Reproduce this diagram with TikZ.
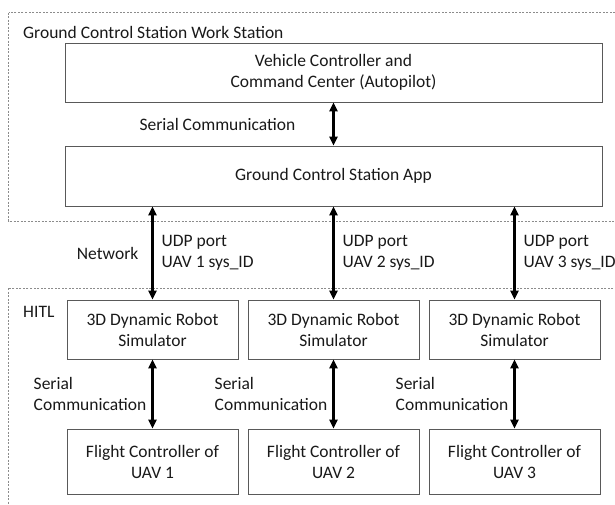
\documentclass[tikz,border=0pt]{standalone}
\usepackage{fontspec}
\setmainfont{Carlito}
\usetikzlibrary{arrows.meta,positioning}

\begin{document}
\begin{tikzpicture}[x=1pt, y=-1pt, >={Triangle[width=8pt,length=9pt]}, node distance=181pt,
	font=\fontsize{17.5}{21}\selectfont,
	block/.style={draw=black!65, line width=0.8pt, align=center, inner sep=0pt, text=black!90},
	simbox/.style={block, minimum width=171pt, minimum height=59pt},
	fcbox/.style={block, minimum width=171pt, minimum height=65pt},
	frame/.style={draw=black!45, line width=0.6pt, dash pattern=on 2pt off 1.5pt},
	lbl/.style={inner sep=0pt, align=left, text=black!90},
	link/.style={<->, line width=2.4pt}]
	\clip (0,0) rectangle (615,504);
	
	% Frames {ground station, HITL}
	\draw [frame] (8.5,12.5) rectangle (630,221);
	\draw [frame] (8.5,288) rectangle (630,520);
	\node [lbl, anchor=west] (gcstitle) at (23,32) {Ground Control Station Work Station};
	\node [lbl, anchor=west] (hitltitle) at (23,312) {HITL};
	
	% Nodes {vcc, gcs, sim1, sim2, sim3, fc1, fc2, fc3}
	\node [block, minimum width=537pt, minimum height=59pt] (vcc) at (333.5,72.5) {Vehicle Controller and\\Command Center (Autopilot)};
	\node [block, minimum width=537pt, minimum height=60pt] (gcs) at (333.5,176) {Ground Control Station App};
	\node [simbox] 						(sim1) at (152.5,329.5)	{3D Dynamic Robot\\Simulator};
	\node [simbox] 						(sim2) [right of=sim1] 	{3D Dynamic Robot\\Simulator};
	\node [simbox] 						(sim3) [right of=sim2] 	{3D Dynamic Robot\\Simulator};
	\node [fcbox, node distance=132pt] 	(fc1) [below of=sim1] 	{Flight Controller of\\UAV 1};
	\node [fcbox, node distance=132pt] 	(fc2) [below of=sim2] 	{Flight Controller of\\UAV 2};
	\node [fcbox, node distance=132pt] 	(fc3) [below of=sim3] 	{Flight Controller of\\UAV 3};
	
	% Paths
	\path [link] (vcc) edge node [lbl, left=37pt] {Serial Communication} (gcs);
	\draw [link] (gcs.south -| sim1.north) -- node [lbl, anchor=west, right=8pt] (udp1) {UDP port\\UAV 1 sys\_ID} node [lbl, left=13pt] (net) {Network} (sim1.north);
	\draw [link] (gcs.south -| sim2.north) -- node [lbl, anchor=west, right=8pt] (udp2) {UDP port\\UAV 2 sys\_ID} (sim2.north);
	\draw [link] (gcs.south -| sim3.north) -- node [lbl, anchor=west, right=8pt] (udp3) {UDP port\\UAV 3 sys\_ID} (sim3.north);
	\draw [link] (sim1) -- node [lbl, left=5pt] {Serial\\Communication} (fc1);
	\draw [link] (sim2) -- node [lbl, left=5pt] {Serial\\Communication} (fc2);
	\draw [link] (sim3) -- node [lbl, left=5pt] {Serial\\Communication} (fc3);
	
\end{tikzpicture}
\end{document}
